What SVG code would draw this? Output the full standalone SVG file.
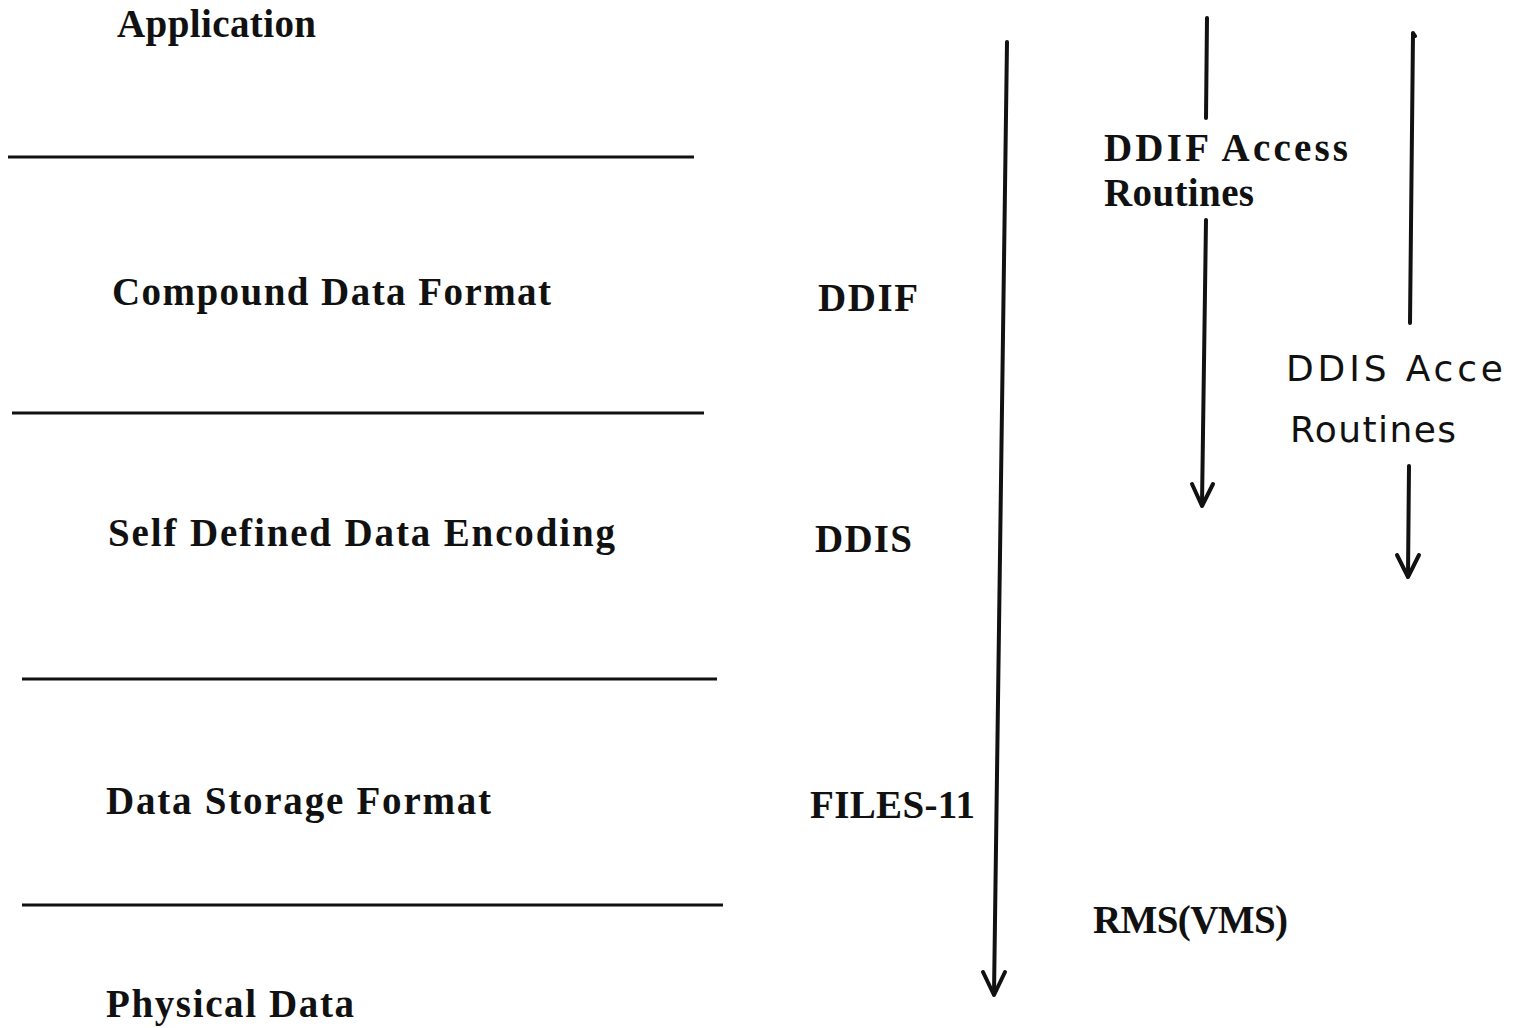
<svg xmlns="http://www.w3.org/2000/svg" width="1513" height="1028" viewBox="0 0 1513 1028">
<style>
.t{font-family:"Liberation Serif","Times New Roman",serif;font-weight:bold;font-size:39px;fill:#111}
.h{font-family:"DejaVu Sans","Liberation Sans",sans-serif;font-weight:normal;font-size:36px;fill:#111}
.ln{stroke:#111;stroke-width:3;fill:none}
.ar{stroke:#111;stroke-width:4;fill:none;stroke-linecap:round;stroke-linejoin:round}
</style>
<rect width="1513" height="1028" fill="#fff"/>
<g id="layers">
<line class="ln" x1="8" y1="157" x2="694" y2="157"/>
<line class="ln" x1="12" y1="413" x2="704" y2="413"/>
<line class="ln" x1="22" y1="679" x2="717" y2="679"/>
<line class="ln" x1="22" y1="905" x2="723" y2="905"/>
</g>
<g id="application"><text class="t" x="117" y="37" textLength="199" lengthAdjust="spacing">Application</text></g>
<g id="compound"><text class="t" x="112" y="305" textLength="439" lengthAdjust="spacing">Compound  Data  Format</text></g>
<g id="ddif"><text class="t" x="818" y="311" textLength="100" lengthAdjust="spacing">DDIF</text></g>
<g id="selfdefined"><text class="t" x="108" y="546" textLength="507" lengthAdjust="spacing">Self  Defined  Data  Encoding</text></g>
<g id="ddis"><text class="t" x="815" y="552" textLength="97" lengthAdjust="spacing">DDIS</text></g>
<g id="storage"><text class="t" x="106" y="814" textLength="385" lengthAdjust="spacing">Data  Storage  Format</text></g>
<g id="files11"><text class="t" x="810" y="818" textLength="165" lengthAdjust="spacing">FILES-11</text></g>
<g id="physical"><text class="t" x="106" y="1017" textLength="248" lengthAdjust="spacing">Physical  Data</text></g>
<g id="rms"><text class="t" x="1093" y="933" textLength="195" lengthAdjust="spacing">RMS(VMS)</text></g>
<g id="ddif-access">
<text class="t" x="1104" y="161" textLength="244" lengthAdjust="spacing">DDIF  Access</text>
<text class="t" x="1104" y="206" textLength="150" lengthAdjust="spacing">Routines</text>
</g>
<g id="ddis-access">
<text class="h" x="1286" y="381" textLength="217" lengthAdjust="spacing">DDIS Acce</text>
<text class="h" x="1290" y="442" textLength="166" lengthAdjust="spacing">Routines</text>
</g>
<g id="connectors">
<path class="ar" d="M1007 42 L994 994"/>
<path class="ar" d="M983 972 L994 995 L1005 972"/>
<path class="ar" d="M1207 18 L1206 118"/>
<path class="ar" d="M1206 220 L1202 505"/>
<path class="ar" d="M1192 484 L1202 506 L1213 484"/>
<path class="ar" d="M1415 36 L1413 33 L1410 323"/>
<path class="ar" d="M1409 466 L1408 576"/>
<path class="ar" d="M1397 555 L1408 577 L1419 555"/>
</g>
</svg>
